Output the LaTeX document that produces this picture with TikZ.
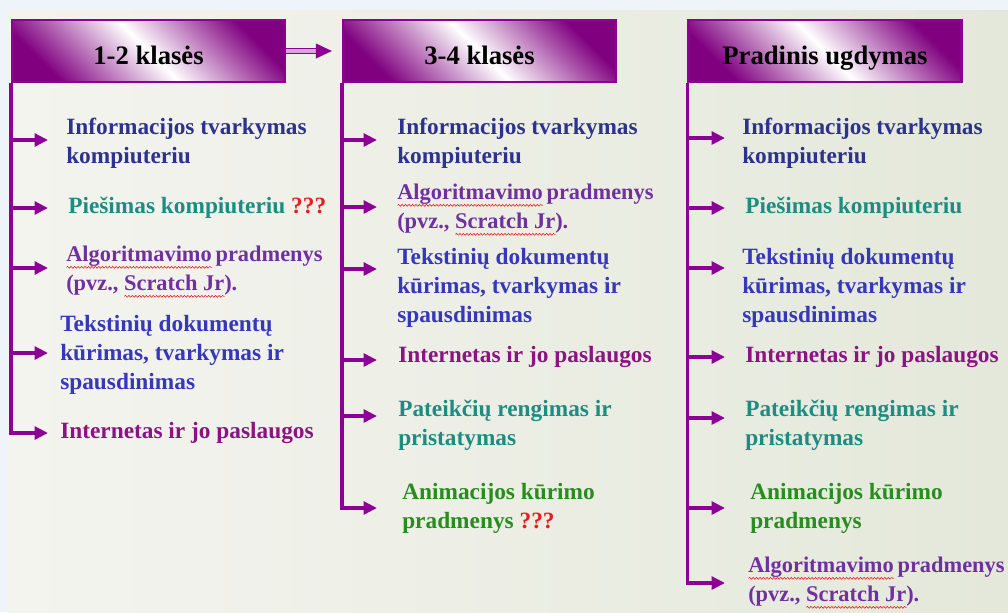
\documentclass[tikz,border=0pt]{standalone}
\usepackage{fontspec}
\setmainfont{Liberation Serif}
\usetikzlibrary{arrows.meta, calc, decorations.pathmorphing}
\definecolor{trunkP}{RGB}{140,0,150}
\definecolor{hdrP}{RGB}{128,0,128}
\definecolor{txtNavy}{RGB}{45,50,140}
\definecolor{txtBlue}{RGB}{55,55,185}
\definecolor{txtViolet}{RGB}{112,48,160}
\definecolor{txtMag}{RGB}{140,20,130}
\definecolor{txtTeal}{RGB}{30,140,130}
\definecolor{txtGreen}{RGB}{40,140,30}
\definecolor{txtRed}{RGB}{230,30,30}
\definecolor{bgSky}{RGB}{238,244,250}
\definecolor{bgL}{RGB}{244,244,239}
\definecolor{bgR}{RGB}{228,232,218}
% red spell-check squiggle under a word
\newlength\wavelen
\newcommand\spellwave[1]{\settowidth\wavelen{#1}\rlap{\tikz[baseline=0pt]
  \draw[txtRed, line width=0.45pt, decorate, decoration={snake, amplitude=0.7pt, segment length=2.6pt}]
  (0pt,-4pt) -- (\wavelen,-4pt);}#1}
\tikzset{
  hdr/.style={draw=trunkP, line width=1.6pt, minimum width=204.75pt, minimum height=46.5pt,
    top color=hdrP, bottom color=hdrP, middle color=white, shading angle=-45,
    text height=19.5pt, text depth=0pt,
    font=\fontsize{20}{24}\selectfont\bfseries},
  item/.style={anchor=west, inner sep=0pt, align=left, font=\fontsize{17.5}{21.75}\selectfont\bfseries},
  algo/.style={item, txtViolet, font=\fontsize{16.8}{21.75}\selectfont\bfseries},
  branch/.style={draw=trunkP, line width=2.8pt, -{Triangle[length=10pt, width=9.5pt]}},
  hdrlink/.style={draw=trunkP, line width=1.1pt, double=trunkP!35, double distance=2.6pt,
    -{Triangle[length=12pt, width=11pt]}, shorten >=7.5pt}
}
\begin{document}
\begin{tikzpicture}[x=0.75pt, y=-0.75pt]
% ===== background =====
\fill[bgSky] (0,0) rectangle (1008,612);
\shade[left color=bgL, right color=bgR] (8,10) rectangle (1008,612);
\useasboundingbox (0,0) rectangle (1008,612);
% ===== headers =====
\node[hdr] (h1) at (148.5,51) {1-2 klasės};
\node[hdr] (h2) at (479.5,51) {3-4 klasės};
\node[hdr] (h3) at (825,51) {Pradinis ugdymas};
\draw[hdrlink] (h1.east) -- (h2.west);
% x of the branch arrow tips
\coordinate (t1) at (48,0);
\coordinate (t2) at (377,0);
\coordinate (t3) at (725,0);
% ===== column 1 =====
\node[item, txtNavy] (a1) at (66,143) {Informacijos tvarkymas\\kompiuteriu};
\node[item, txtTeal] (a2) at (68,208) {Piešimas kompiuteriu \textcolor{txtRed}{???}};
\node[algo] (a3) at (66,272) {\spellwave{Algoritmavimo}\,pradmenys\\(pvz., \spellwave{Scratch Jr}).};
\node[item, txtBlue] (a4) at (60,355) {Tekstinių dokumentų\\kūrimas, tvarkymas ir\\spausdinimas};
\node[item, txtMag] (a5) at (60,433) {Internetas ir jo paslaugos};
\foreach \n/\dy in {a1/-3, a2/0, a3/-4, a4/-2, a5/0}
  \draw[branch] (h1.south west) |- ($(t1 |- \n.west)+(0,\dy)$);
% ===== column 2 =====
\node[item, txtNavy] (b1) at (397,143) {Informacijos tvarkymas\\kompiuteriu};
\node[algo] (b2) at (397,210) {\spellwave{Algoritmavimo}\,pradmenys\\(pvz., \spellwave{Scratch Jr}).};
\node[item, txtBlue] (b3) at (397,288) {Tekstinių dokumentų\\kūrimas, tvarkymas ir\\spausdinimas};
\node[item, txtMag] (b4) at (398,357) {Internetas ir jo paslaugos};
\node[item, txtTeal] (b5) at (398,425) {Pateikčių rengimas ir\\pristatymas};
\node[item, txtGreen] (b6) at (402,508) {Animacijos kūrimo\\pradmenys \textcolor{txtRed}{???}};
\foreach \n/\dy in {b1/-3, b2/-3, b3/-19, b4/3, b5/-9, b6/0}
  \draw[branch] (h2.south west) |- ($(t2 |- \n.west)+(0,\dy)$);
% ===== column 3 =====
\node[item, txtNavy] (c1) at (742,143) {Informacijos tvarkymas\\kompiuteriu};
\node[item, txtTeal] (c2) at (745,208) {Piešimas kompiuteriu};
\node[item, txtBlue] (c3) at (742,288) {Tekstinių dokumentų\\kūrimas, tvarkymas ir\\spausdinimas};
\node[item, txtMag] (c4) at (745,357) {Internetas ir jo paslaugos};
\node[item, txtTeal] (c5) at (745,425) {Pateikčių rengimas ir\\pristatymas};
\node[item, txtGreen] (c6) at (750,508) {Animacijos kūrimo\\pradmenys};
\node[algo] (c7) at (748,583) {\spellwave{Algoritmavimo}\,pradmenys\\(pvz., \spellwave{Scratch Jr}).};
\foreach \n/\dy in {c1/-5, c2/0, c3/-20, c4/0, c5/-7, c6/0, c7/0}
  \draw[branch] (h3.south west) |- ($(t3 |- \n.west)+(0,\dy)$);
\end{tikzpicture}
\end{document}
